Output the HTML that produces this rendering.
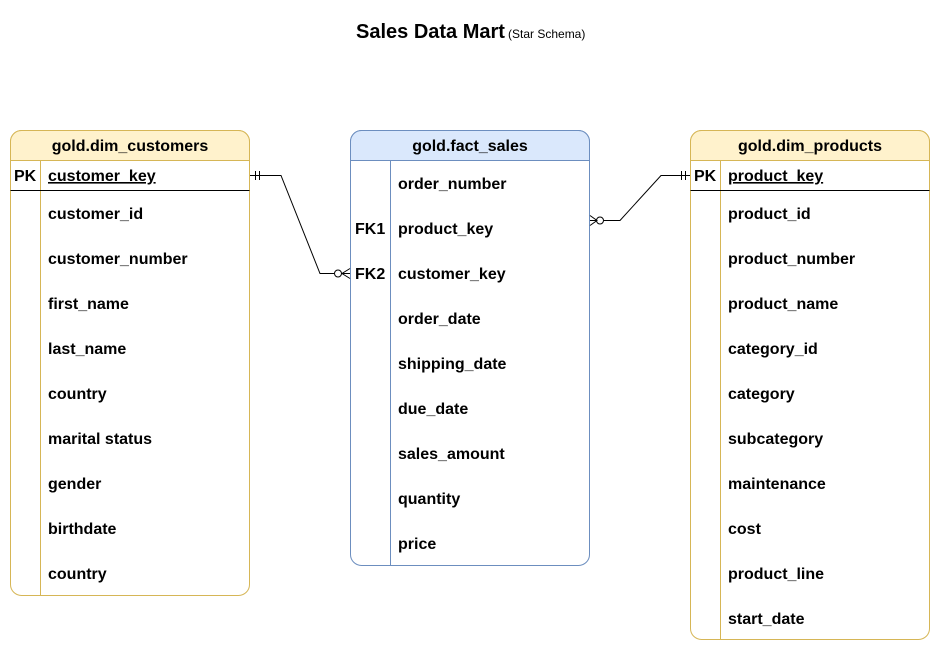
<!DOCTYPE html>
<html><head><meta charset="utf-8"><style>
html,body{margin:0;padding:0;background:#fff;}
svg{display:block;}
text{font-family:"Liberation Sans",Arial,sans-serif;font-weight:bold;font-size:16px;fill:#000;}
</style></head><body>
<svg width="941" height="651" viewBox="0 0 941 651" xmlns="http://www.w3.org/2000/svg">
<text x="356" y="38" style="font-size:20px">Sales Data Mart</text>
<text x="508" y="38" style="font-size:12px;font-weight:normal">(Star Schema)</text>

<!-- customers -->
<rect x="10.5" y="130.5" width="239" height="465" rx="11" fill="#fff" stroke="#d6b656"/>
<path d="M10.5,160.5 V141.5 A11,11 0 0 1 21.5,130.5 H238.5 A11,11 0 0 1 249.5,141.5 V160.5 Z" fill="#fff2cc" stroke="#d6b656"/>
<line x1="40.5" y1="160.5" x2="40.5" y2="595" stroke="#d6b656"/>
<line x1="10.5" y1="190.5" x2="249.5" y2="190.5" stroke="#000"/>
<text x="130" y="151" text-anchor="middle">gold.dim_customers</text>
<text x="14" y="181">PK</text>
<text x="48" y="181" text-decoration="underline">customer_key</text>
<text x="48" y="219">customer_id</text>
<text x="48" y="264">customer_number</text>
<text x="48" y="309">first_name</text>
<text x="48" y="354">last_name</text>
<text x="48" y="399">country</text>
<text x="48" y="444">marital status</text>
<text x="48" y="489">gender</text>
<text x="48" y="534">birthdate</text>
<text x="48" y="579">country</text>

<!-- fact -->
<rect x="350.5" y="130.5" width="239" height="435" rx="11" fill="#fff" stroke="#6c8ebf"/>
<path d="M350.5,160.5 V141.5 A11,11 0 0 1 361.5,130.5 H578.5 A11,11 0 0 1 589.5,141.5 V160.5 Z" fill="#dae8fc" stroke="#6c8ebf"/>
<line x1="390.5" y1="160.5" x2="390.5" y2="565" stroke="#6c8ebf"/>
<text x="470" y="151" text-anchor="middle">gold.fact_sales</text>
<text x="398" y="189">order_number</text>
<text x="355" y="234">FK1</text>
<text x="398" y="234">product_key</text>
<text x="355" y="279">FK2</text>
<text x="398" y="279">customer_key</text>
<text x="398" y="324">order_date</text>
<text x="398" y="369">shipping_date</text>
<text x="398" y="414">due_date</text>
<text x="398" y="459">sales_amount</text>
<text x="398" y="504">quantity</text>
<text x="398" y="549">price</text>

<!-- products -->
<rect x="690.5" y="130.5" width="239" height="509" rx="11" fill="#fff" stroke="#d6b656"/>
<path d="M690.5,160.5 V141.5 A11,11 0 0 1 701.5,130.5 H918.5 A11,11 0 0 1 929.5,141.5 V160.5 Z" fill="#fff2cc" stroke="#d6b656"/>
<line x1="720.5" y1="160.5" x2="720.5" y2="640" stroke="#d6b656"/>
<line x1="690.5" y1="190.5" x2="929.5" y2="190.5" stroke="#000"/>
<text x="810" y="151" text-anchor="middle">gold.dim_products</text>
<text x="694" y="181">PK</text>
<text x="728" y="181" text-decoration="underline">product_key</text>
<text x="728" y="219">product_id</text>
<text x="728" y="264">product_number</text>
<text x="728" y="309">product_name</text>
<text x="728" y="354">category_id</text>
<text x="728" y="399">category</text>
<text x="728" y="444">subcategory</text>
<text x="728" y="489">maintenance</text>
<text x="728" y="534">cost</text>
<text x="728" y="579">product_line</text>
<text x="728" y="624">start_date</text>

<!-- connectors -->
<g fill="none" stroke="#000" stroke-width="1">
<path d="M250,175.5 H281 L320,273.5 H334"/>
<line x1="255.5" y1="171" x2="255.5" y2="180"/>
<line x1="259.5" y1="171" x2="259.5" y2="180"/>
<circle cx="338" cy="273.5" r="3.5" fill="#fff"/>
<path d="M350,268.5 L342,273.5 L350,278.5 M342,273.5 H350"/>

<path d="M604,220.5 H620 L661,175.5 H690"/>
<line x1="681.5" y1="171" x2="681.5" y2="180"/>
<line x1="685.5" y1="171" x2="685.5" y2="180"/>
<circle cx="600" cy="220.5" r="3.5" fill="#fff"/>
<path d="M590,215.5 L597,220.5 L590,225.5 M590,220.5 H596"/>
</g>
</svg>
</body></html>
